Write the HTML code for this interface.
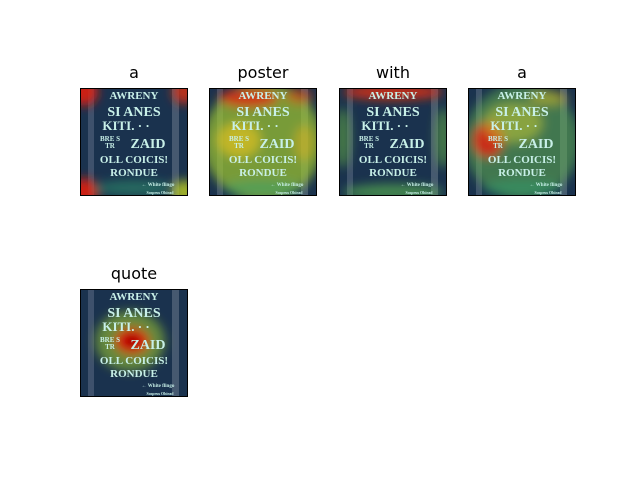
<!DOCTYPE html>
<html><head><meta charset="utf-8"><style>
body{margin:0;background:#fff;}
#fig{position:relative;width:640px;height:480px;font-family:"DejaVu Sans","Liberation Sans",sans-serif;}
.title{position:absolute;width:108px;text-align:center;font-size:16px;color:#000;}
svg.panel{position:absolute;}
</style></head><body>
<div id="fig"></div>
<script>
const titles=["a","poster","with","a","quote"];
const panelX=[80,209,339,468,80];
const panelY=[88,88,88,88,289];
// heat blobs per panel: [cx,cy,rx,ry,color,opacity]
const blobs=[
 [[4,4,14,14,"#e02010",0.9],[104,4,12,12,"#e03010",0.8],[4,104,14,14,"#e02010",0.9],[104,104,12,12,"#c0d020",0.8],[54,100,40,8,"#30a070",0.5]],
 [[54,54,60,60,"#a0c830",0.7],[40,10,30,10,"#e02010",0.8],[90,8,14,8,"#e04010",0.6],[30,52,22,18,"#e0c020",0.7],[95,55,10,18,"#e0b020",0.5],[54,100,40,8,"#30a070",0.5]],
 [[54,4,50,8,"#e03010",0.85],[4,50,8,30,"#70c040",0.5],[104,50,8,30,"#70c040",0.5],[54,104,50,8,"#60c050",0.6]],
 [[54,54,58,58,"#60b050",0.55],[20,52,16,18,"#e02010",0.85],[45,35,30,20,"#d0d030",0.5],[80,10,20,8,"#e0c020",0.5],[54,100,40,8,"#30a070",0.5]],
 [[50,52,35,30,"#a0d030",0.55],[52,52,18,14,"#e01010",0.95],[52,52,8,7,"#900000",0.8]]
];
const fig=document.getElementById('fig');
const NS="http://www.w3.org/2000/svg";
for(let i=0;i<titles.length;i++){
  const t=document.createElement('div');
  t.className='title';
  
  
  t.style.left=panelX[i]+'px';t.style.top=(panelY[i]-25)+'px';
  t.textContent=titles[i];fig.appendChild(t);
  let s=`<defs><filter id="bl${i}" x="-50%" y="-50%" width="200%" height="200%"><feGaussianBlur stdDeviation="5"/></filter></defs>
  <rect x="0" y="0" width="108" height="108" fill="#1a2540"/>
  <rect x="8" y="0" width="6" height="108" fill="#6a6a80" opacity="0.7"/>
  <rect x="92" y="0" width="7" height="108" fill="#7a7a8a" opacity="0.7"/>
  <rect x="0" y="0" width="108" height="108" fill="#1e4a6a" opacity="0.35"/>`;
  s+=`<g filter="url(#bl${i})">`;
  for(const b of blobs[i]) s+=`<ellipse cx="${b[0]}" cy="${b[1]}" rx="${b[2]}" ry="${b[3]}" fill="${b[4]}" opacity="${b[5]}"/>`;
  s+=`</g><g fill="#c8f0e8" font-family="Liberation Serif,serif" font-weight="bold" text-anchor="middle">
  <text x="54" y="11" font-size="11">AWRENY</text>
  <text x="54" y="28" font-size="14">SI ANES</text>
  <text x="46" y="42" font-size="13">KITI. · ·</text>
  <text x="30" y="53" font-size="7">BRE S</text><text x="30" y="60" font-size="7">TR</text>
  <text x="68" y="60" font-size="14">ZAID</text>
  <text x="54" y="75" font-size="11">OLL COICIS!</text>
  <text x="54" y="88" font-size="11">RONDUE</text>
  <text x="78" y="98" font-size="5">← White flingo</text>
  <text x="80" y="106" font-size="4">Sosprus Ohirad</text></g>
  <rect x="0.5" y="0.5" width="107" height="107" fill="none" stroke="#000" stroke-width="1"/>`;
  const sv=document.createElementNS(NS,'svg');
  sv.setAttribute('class','panel');
  
  
  sv.setAttribute('width','108');sv.setAttribute('height','108');
  sv.style.left=panelX[i]+'px';sv.style.top=panelY[i]+'px';
  sv.innerHTML=s;fig.appendChild(sv);
}
</script>
</body></html>
